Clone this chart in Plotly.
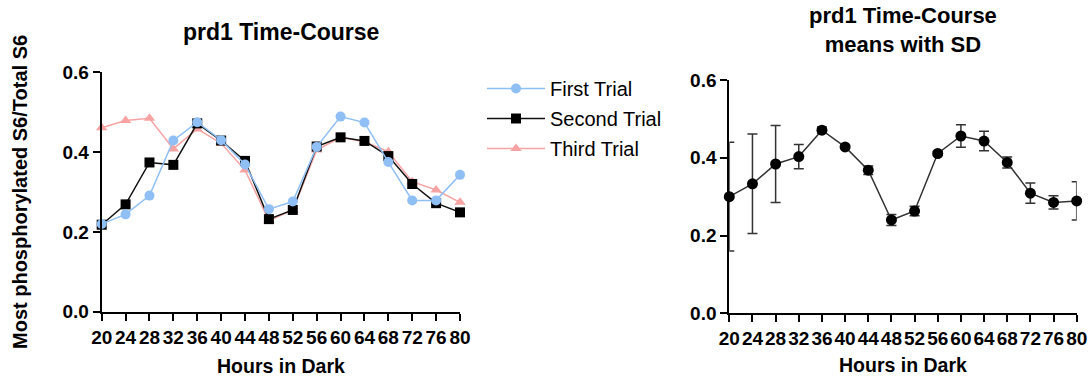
import plotly.graph_objects as go

hours = [20, 24, 28, 32, 36, 40, 44, 48, 52, 56, 60, 64, 68, 72, 76, 80]
first_trial = [0.220, 0.244, 0.291, 0.429, 0.475, 0.430, 0.369, 0.257, 0.276, 0.413, 0.489, 0.474, 0.375, 0.279, 0.279, 0.343]
second_trial = [0.218, 0.269, 0.374, 0.368, 0.472, 0.429, 0.378, 0.232, 0.255, 0.414, 0.437, 0.428, 0.390, 0.320, 0.272, 0.249]
third_trial = [0.461, 0.479, 0.485, 0.408, 0.458, 0.422, 0.355, 0.228, 0.255, 0.405, 0.437, 0.426, 0.401, 0.326, 0.305, 0.274]
mean_vals = [0.300, 0.333, 0.384, 0.403, 0.471, 0.428, 0.368, 0.240, 0.263, 0.411, 0.456, 0.443, 0.388, 0.309, 0.285, 0.289]
sd_vals = [0.140, 0.128, 0.099, 0.031, 0.008, 0.004, 0.011, 0.014, 0.012, 0.005, 0.029, 0.025, 0.014, 0.026, 0.017, 0.049]
y_ticks = [0.0, 0.2, 0.4, 0.6]
y_tick_text = ["0.0", "0.2", "0.4", "0.6"]

BLUE = "#8fbff5"
PINK = "#f7a3a3"
FONT = "Liberation Sans"
W, H = 1090, 376

fig = go.Figure()

# draw order: third (bottom), second, first (top)
fig.add_trace(go.Scatter(x=hours, y=third_trial, mode="lines+markers", name="Third Trial",
                         line=dict(color=PINK, width=1.5),
                         marker=dict(symbol="triangle-up", size=10, color=PINK),
                         legendgroup="c", legendrank=3, cliponaxis=False, xaxis="x", yaxis="y"))
fig.add_trace(go.Scatter(x=hours, y=second_trial, mode="lines+markers", name="Second Trial",
                         line=dict(color="#111111", width=1.5),
                         marker=dict(symbol="square", size=10, color="#000000"),
                         legendgroup="b", legendrank=2, cliponaxis=False, xaxis="x", yaxis="y"))
fig.add_trace(go.Scatter(x=hours, y=first_trial, mode="lines+markers", name="First Trial",
                         line=dict(color=BLUE, width=1.5),
                         marker=dict(symbol="circle", size=10, color=BLUE),
                         legendgroup="a", legendrank=1, cliponaxis=False, xaxis="x", yaxis="y"))

fig.add_trace(go.Scatter(x=hours, y=mean_vals, mode="lines+markers", name="Mean",
                         showlegend=False,
                         line=dict(color="#333333", width=1.5),
                         marker=dict(symbol="circle", size=11, color="#000000"),
                         error_y=dict(type="data", array=sd_vals, visible=True,
                                      color="#333333", thickness=1.5, width=5),
                         cliponaxis=False, xaxis="x2", yaxis="y2"))

axis_common = dict(showgrid=False, zeroline=False, showline=True, linecolor="black",
                   linewidth=2, ticks="outside", ticklen=7, tickwidth=2, tickcolor="black",
                   automargin=False, tickangle=0,
                   tickfont=dict(family=FONT, size=19, color="black", weight="bold"))

fig.update_layout(
    width=W, height=H,
    margin=dict(l=0, r=0, t=0, b=0, pad=0, autoexpand=False),
    paper_bgcolor="white", plot_bgcolor="white",
    font=dict(family=FONT, color="black"),
    xaxis=dict(domain=[101.7 / W, 460 / W], range=[20, 80], tickvals=hours,
               anchor="y", **axis_common),
    yaxis=dict(domain=[1 - 311.7 / H, 1 - 72.3 / H], range=[0, 0.6], tickvals=y_ticks,
               ticktext=y_tick_text, anchor="x", **axis_common),
    xaxis2=dict(domain=[729.3 / W, 1076.7 / W], range=[20, 80], tickvals=hours,
                anchor="y2", **axis_common),
    yaxis2=dict(domain=[1 - 313.3 / H, 1 - 80 / H], range=[0, 0.6], tickvals=y_ticks,
                ticktext=y_tick_text, anchor="x2", **axis_common),
    legend=dict(x=482 / W, y=1 - 69 / H, xanchor="left", yanchor="top",
                font=dict(family=FONT, size=20, color="black"), itemwidth=58,
                traceorder="grouped", tracegroupgap=1, bgcolor="rgba(0,0,0,0)"),
    showlegend=True,
)

ann_bold = dict(family=FONT, size=19.5, color="black", weight="bold")
common_ann = dict(xref="paper", yref="paper", showarrow=False, xanchor="center", yanchor="middle")
fig.add_annotation(text="prd1 Time-Course", x=281 / W, y=1 - 32 / H,
                   font=dict(family=FONT, size=23, color="black", weight="bold"), **common_ann)
fig.add_annotation(text="prd1 Time-Course<br>means with SD", x=903 / W, y=1 - 30 / H,
                   font=dict(family=FONT, size=22, color="black", weight="bold"), **common_ann)
fig.add_annotation(text="Hours in Dark", x=281 / W, y=1 - 366 / H, font=ann_bold, **common_ann)
fig.add_annotation(text="Hours in Dark", x=903 / W, y=1 - 365 / H, font=ann_bold, **common_ann)
fig.add_annotation(text="Most phosphorylated S6/Total S6", x=20 / W, y=1 - 192 / H,
                   textangle=-90, font=dict(family=FONT, size=20, color="black", weight="bold"),
                   **common_ann)

fig.write_html("out.html", config={"displayModeBar": False},
               post_script="document.body.style.margin='0px';")
